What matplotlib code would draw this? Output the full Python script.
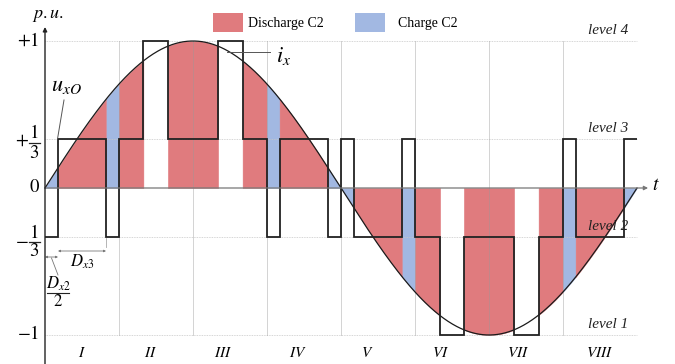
import numpy as np
import matplotlib
matplotlib.use('Agg')
import matplotlib.pyplot as plt
from matplotlib.patches import Rectangle

plt.rcParams['mathtext.fontset'] = 'stix'
plt.rcParams['font.family'] = ['Liberation Serif', 'DejaVu Serif']

# time in sector units (one sector = pi/4 of the fundamental)
switch_t = [0, 0.17, 0.83, 1.0, 1.33, 1.66, 2.34, 2.67, 3.0, 3.17, 3.83, 4.0,
            4.17, 4.83, 5.0, 5.34, 5.66, 6.34, 6.67, 7.0, 7.17, 7.83, 8.0]
# output level of u_xO between switching instants, in thirds of p.u.
u_thirds = [-1, 1, -1, 1, 3, 1, 3, 1, -1, 1, -1,
            1, -1, 1, -1, -3, -1, -3, -1, 1, -1, 1]
sector_names = ['I', 'II', 'III', 'IV', 'V', 'VI', 'VII', 'VIII']
sector_pos = [0.5, 1.42, 2.41, 3.42, 4.36, 5.35, 6.39, 7.5]
level_vals = [1, 1/3, -1/3, -1]
level_names = ['level 4', 'level 3', 'level 2', 'level 1']

RED = '#E07B7E'
BLUE = '#A2B8E2'

fig = plt.figure(figsize=(6.75, 3.64), dpi=100)
ax = fig.add_axes([0, 0, 1, 1])
ax.set_xlim(-45/74, 630/74)
ax.set_ylim(-176/147, 188/147)
ax.axis('off')

def P(px, py):
    # pixel position -> data coords
    return (px - 45) / 74, (188 - py) / 147

edges = np.array(switch_t)
lv = np.array(u_thirds) / 3

# charge / discharge shading under the current
for a, b, v in zip(edges[:-1], edges[1:], lv):
    if abs(v) > 0.5:
        continue
    uu = np.linspace(a, b, 80)
    ii = np.sin(np.pi * uu / 4)
    same = np.sign(v) == np.sign(np.sin(np.pi * (a + b) / 8))
    col = RED if same else BLUE
    ax.fill_between(uu, 0, ii, color=col, lw=0.3, ec=col, zorder=2)

# grid
for y in level_vals:
    ax.plot([0, 8], [y, y], color='#c8c8c8', lw=0.6, ls=(0, (1, 1)), zorder=3)
for x in range(1, 8):
    ax.plot([x, x], [-1, 1], color='#999999', lw=0.6, alpha=0.5, zorder=3)

# level names
for y, name in zip(level_vals, level_names):
    ax.text(7.61, y + 10/147, name, fontsize=11, style='italic', ha='center',
            va='center', color='#222222', zorder=3)

# current and converter output voltage
uu = np.linspace(0, 8, 800)
ax.plot(uu, np.sin(np.pi * uu / 4), color='#1a1a1a', lw=0.9, zorder=4)
ax.stairs(lv, edges, baseline=None, color='#222222', lw=1.3, zorder=5)

# axes with arrows
ax.annotate('', xy=(8.15, 0), xytext=(0, 0),
            arrowprops=dict(arrowstyle='-|>', color='#777777', lw=0.9,
                            mutation_scale=6, shrinkA=0, shrinkB=0), zorder=6)
ax.annotate('', xy=P(45, 27), xytext=P(45, 364),
            arrowprops=dict(arrowstyle='-|>', color='#222222', lw=1.0,
                            mutation_scale=6, shrinkA=0, shrinkB=0), zorder=6)
ax.text(*P(656, 186), '$t$', fontsize=14, ha='center', va='center')
ax.text(*P(48, 15), '$p.u.$', fontsize=13, ha='center', va='center')

# y tick labels
ax.text(*P(39, 41), '$+1$', fontsize=13.5, ha='right', va='center')
ax.text(*P(40, 187), '$0$', fontsize=13.5, ha='right', va='center')
ax.text(*P(39, 334), '$-1$', fontsize=13.5, ha='right', va='center')
for sign, bar in [('+', 143), ('-', 242)]:
    ax.text(*P(22, bar - 1.5), '$' + sign + '$', fontsize=13.5, ha='center', va='center')
    ax.plot(*zip(P(28.5, bar), P(39.5, bar)), color='#222222', lw=0.9)
    ax.text(*P(34, bar - 9.5), '$1$', fontsize=13.5, ha='center', va='center')
    ax.text(*P(34, bar + 10), '$3$', fontsize=13.5, ha='center', va='center')

# sector numbers
for x, name in zip(sector_pos, sector_names):
    ax.text(x, P(0, 353)[1], '$' + name + '$', fontsize=11, ha='center', va='center')

# signal labels
ax.plot(*zip(P(227, 52), P(270, 52)), color='#555555', lw=0.7, zorder=6)
ax.text(*P(284, 56), '$i_x$', fontsize=16, ha='center', va='center')
ax.plot(*zip(P(64, 100), P(57.5, 139)), color='#555555', lw=0.7, zorder=6)
ax.text(*P(66, 87), '$u_{xO}$', fontsize=16, ha='center', va='center')

# D_x3 and D_x2/2 dimensions
ax.plot(*zip(P(106, 238), P(106, 247)), color='#aaaaaa', lw=0.6)
ax.annotate('', xy=P(106, 251), xytext=P(58, 251),
            arrowprops=dict(arrowstyle='<|-|>', color='#777777', lw=0.6,
                            mutation_scale=3, shrinkA=0, shrinkB=0))
ax.text(*P(82, 262), '$D_{x3}$', fontsize=12, ha='center', va='center')
ax.annotate('', xy=P(58, 257), xytext=P(45, 257),
            arrowprops=dict(arrowstyle='<|-|>', color='#777777', lw=0.6,
                            mutation_scale=3, shrinkA=0, shrinkB=0))
ax.plot(*zip(P(51.5, 258), P(58, 275)), color='#777777', lw=0.6)
ax.text(*P(58, 284), '$D_{x2}$', fontsize=12, ha='center', va='center')
ax.plot(*zip(P(47, 293), P(69, 293)), color='#222222', lw=0.8)
ax.text(*P(58, 302), '$2$', fontsize=12, ha='center', va='center')

# legend
for px, gap, col, name in [(213, 5, RED, 'Discharge C2'), (355, 13, BLUE, 'Charge C2')]:
    x0, y0 = P(px, 32)
    x1, y1 = P(px + 30, 13)
    ax.add_patch(Rectangle((x0, y0), x1 - x0, y1 - y0, color=col, lw=0))
    ax.text(*P(px + 30 + gap, 23), name, fontsize=10, ha='left', va='center')

fig.savefig('out.png', dpi=100)
